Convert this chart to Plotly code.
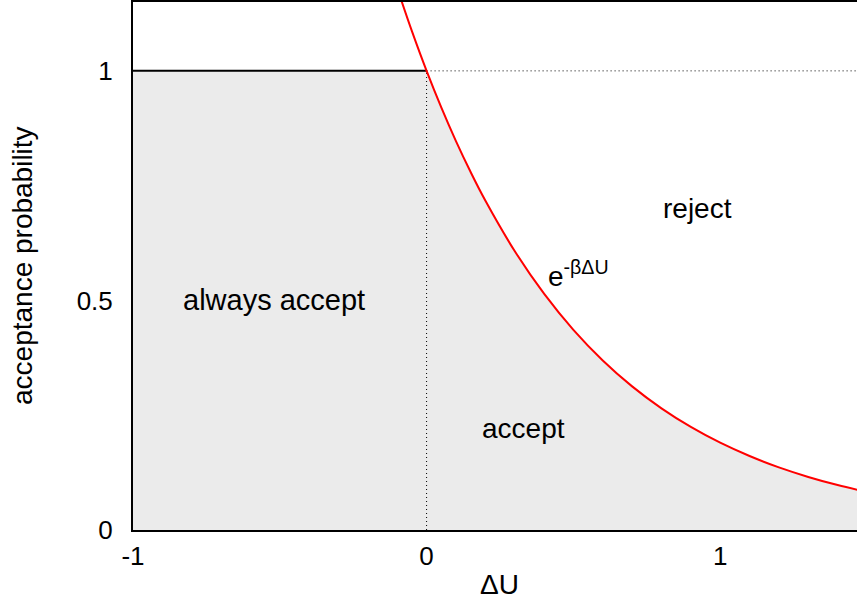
import plotly.graph_objects as go

# Data
curve_x = [-0.09, -0.05, 0.0, 0.05, 0.1, 0.15, 0.2, 0.3, 0.4, 0.5, 0.6, 0.7,
           0.8, 0.9, 1.0, 1.1, 1.2, 1.3, 1.4, 1.47]
curve_y = [1.161, 1.0865, 1.0, 0.9204, 0.847, 0.7796, 0.7175, 0.6077, 0.5148,
           0.436, 0.3693, 0.3128, 0.265, 0.2245, 0.1901, 0.1611, 0.1364,
           0.1156, 0.0979, 0.0872]
x_min, x_max = -1.0, 1.466
y_max = 1.15
x_ticks = [-1, 0, 1]
x_tick_labels = ["-1", "0", "1"]
y_ticks = [0, 0.5, 1]
y_tick_labels = ["0", "0.5", "1"]

FONT = "Liberation Sans, Arial, sans-serif"
FS = 28
TFS = 26

# accepted region: min(1, curve)
fill_x = [x_min] + [x for x in curve_x if x >= 0]
fill_y = [1.0] + [y for x, y in zip(curve_x, curve_y) if x >= 0]

fig = go.Figure()
fig.add_trace(go.Scatter(x=fill_x, y=fill_y, mode="lines", line=dict(width=0),
                         fill="tozeroy", fillcolor="#ebebeb", hoverinfo="skip", showlegend=False))
# dotted guides
fig.add_trace(go.Scatter(x=[0, x_max], y=[1, 1], mode="lines",
                         line=dict(color="black", width=1, dash="1px,3px"), showlegend=False))
fig.add_trace(go.Scatter(x=[0, 0], y=[0, 1], mode="lines",
                         line=dict(color="black", width=1, dash="1px,3px"), showlegend=False))
# solid line y=1 for negative ΔU
fig.add_trace(go.Scatter(x=[x_min, 0], y=[1, 1], mode="lines",
                         line=dict(color="black", width=2), showlegend=False))
# exponential curve
fig.add_trace(go.Scatter(x=curve_x, y=curve_y, mode="lines",
                         line=dict(color="#ff0000", width=2, shape="spline"), showlegend=False))

ann = dict(showarrow=False, font=dict(family=FONT, size=FS, color="black"),
           xanchor="center", yanchor="middle")
fig.add_annotation(x=-0.52, y=0.5, text="always accept",
                   **{**ann, "font": dict(family=FONT, size=29, color="black")})
fig.add_annotation(x=0.329, y=0.22, text="accept", **ann)
fig.add_annotation(x=0.922, y=0.70, text="reject", **ann)
fig.add_annotation(x=0.517, y=0.557, text="e<sup>-βΔU</sup>", **ann)
fig.add_annotation(x=0.25, y=0, yshift=-54, text="ΔU", **ann)
fig.add_annotation(x=0, xref="paper", xshift=-111, y=0.5, yref="paper",
                   text="acceptance probability", textangle=-90,
                   showarrow=False, font=dict(family=FONT, size=FS, color="black"),
                   xanchor="center", yanchor="middle")

fig.update_layout(
    width=857, height=603,
    margin=dict(l=133, r=0, t=2, b=73),
    paper_bgcolor="white", plot_bgcolor="white",
    font=dict(family=FONT, size=TFS, color="black"),
    xaxis=dict(range=[x_min, x_max], showgrid=False, zeroline=False, automargin=False,
               showline=True, linecolor="black", linewidth=2, mirror=True,
               tickvals=x_ticks, ticktext=x_tick_labels,
               ticks="outside", ticklen=2, tickcolor="rgba(0,0,0,0)"),
    yaxis=dict(range=[0, y_max], showgrid=False, zeroline=False, automargin=False,
               showline=True, linecolor="black", linewidth=2,
               tickvals=y_ticks, ticktext=y_tick_labels,
               ticks="outside", ticklen=13, tickcolor="rgba(0,0,0,0)"),
)

fig.write_html("out.html", config={"displayModeBar": False},
               post_script="document.body.style.margin='0';document.body.style.overflow='hidden';")
